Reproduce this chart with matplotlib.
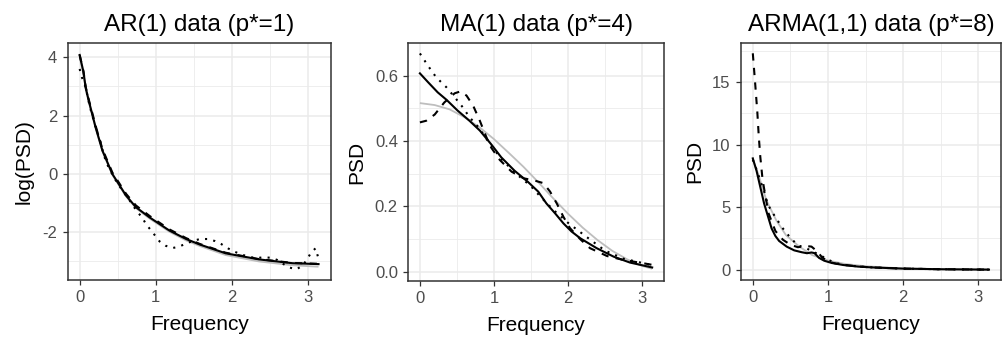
import matplotlib
matplotlib.use("Agg")
import matplotlib.pyplot as plt
from matplotlib.ticker import MultipleLocator, FormatStrFormatter

plt.rcParams["font.family"] = ["Liberation Sans", "DejaVu Sans"]
plt.rcParams["axes.unicode_minus"] = False

# ---- AR(1) panel: log(PSD) ----
ar_true_f = [0.0, 0.05, 0.08, 0.12, 0.21, 0.30, 0.43, 0.61, 0.74, 0.92, 1.18, 1.40, 1.58, 1.92, 2.36, 2.80, 3.14]
ar_true_v = [4.0, 3.42, 2.9, 2.47, 1.56, 0.77, -0.03, -0.77, -1.17, -1.53, -1.98, -2.28, -2.47, -2.78, -3.0, -3.13, -3.18]

ar_est_f = [0.0, 0.05, 0.08, 0.12, 0.21, 0.30, 0.43, 0.61, 0.74, 0.92, 1.18, 1.40, 1.58, 1.92, 2.36, 2.80, 3.14]
ar_est_v = [4.08, 3.5, 2.95, 2.51, 1.6, 0.80, 0.0, -0.74, -1.14, -1.49, -1.94, -2.23, -2.42, -2.72, -2.93, -3.06, -3.09]

ar_dash_f = ar_est_f
ar_dash_v = [4.08, 3.52, 2.98, 2.55, 1.65, 0.85, 0.05, -0.68, -1.08, -1.44, -1.9, -2.2, -2.4, -2.7, -2.92, -3.05, -3.08]

ar_dot_f = [0.0, 0.03, 0.08, 0.13, 0.16, 0.21, 0.24, 0.27, 0.32, 0.36, 0.45, 0.55, 0.65, 0.76, 0.82, 0.87,
            0.94, 1.0, 1.05, 1.13, 1.22, 1.31, 1.40, 1.50, 1.58, 1.68, 1.78, 1.86, 1.95, 2.03, 2.15, 2.31,
            2.40, 2.51, 2.60, 2.68, 2.76, 2.85, 2.93, 2.99, 3.04, 3.10, 3.14]
ar_dot_v = [3.6, 3.31, 2.97, 2.34, 2.06, 1.6, 1.37, 1.14, 0.63, 0.34, -0.12, -0.52, -0.88, -1.31, -1.48, -1.71,
            -1.94, -2.14, -2.31, -2.46, -2.54, -2.49, -2.38, -2.29, -2.23, -2.23, -2.30, -2.40, -2.55, -2.66, -2.78, -2.89,
            -2.86, -2.87, -2.95, -3.09, -3.21, -3.27, -3.14, -2.93, -2.70, -2.55, -2.9]

# ---- MA(1) panel: PSD ----
ma_true_f = [0.0, 0.2, 0.4, 0.6, 0.8, 1.0, 1.2, 1.4, 1.6, 1.8, 2.0, 2.2, 2.4, 2.6, 2.8, 3.0, 3.14]
ma_true_v = [0.516, 0.51, 0.497, 0.473, 0.443, 0.406, 0.364, 0.321, 0.274, 0.225, 0.178, 0.135, 0.097, 0.064, 0.038, 0.018, 0.009]

ma_est_f = [0.0, 0.11, 0.24, 0.36, 0.51, 0.67, 0.81, 0.96, 1.10, 1.28, 1.46, 1.60, 1.71, 1.83, 1.94, 2.05, 2.17, 2.39, 2.62, 2.84, 3.14]
ma_est_v = [0.607, 0.58, 0.549, 0.526, 0.493, 0.462, 0.432, 0.391, 0.350, 0.309, 0.275, 0.245, 0.209, 0.178, 0.148, 0.123, 0.102, 0.072, 0.046, 0.028, 0.013]

ma_dash_f = [0.0, 0.085, 0.20, 0.33, 0.47, 0.55, 0.63, 0.72, 0.81, 0.90, 0.96, 1.08, 1.24, 1.40, 1.55, 1.67, 1.76, 1.85, 1.94, 2.03, 2.17, 2.30, 2.53, 2.75, 3.02, 3.14]
ma_dash_v = [0.457, 0.462, 0.481, 0.518, 0.546, 0.552, 0.539, 0.508, 0.462, 0.411, 0.381, 0.342, 0.306, 0.286, 0.279, 0.271, 0.245, 0.209, 0.168, 0.133, 0.099, 0.072, 0.048, 0.036, 0.026, 0.021]

ma_dot_f = [0.0, 0.11, 0.22, 0.36, 0.47, 0.58, 0.67, 0.80, 0.95, 1.10, 1.30, 1.50, 1.62, 1.80, 2.0, 2.25, 2.50, 2.75, 3.14]
ma_dot_v = [0.668, 0.63, 0.595, 0.564, 0.534, 0.503, 0.473, 0.44, 0.39, 0.345, 0.30, 0.262, 0.232, 0.19, 0.15, 0.107, 0.065, 0.04, 0.02]

# ---- ARMA(1,1) panel: PSD ----
arma_true_f = [0.0, 0.07, 0.18, 0.31, 0.44, 0.62, 0.79, 1.01, 1.24, 1.5, 2.0, 2.5, 3.14]
arma_true_v = [8.8, 7.7, 5.56, 3.97, 2.77, 1.84, 1.17, 0.72, 0.45, 0.28, 0.1, 0.04, 0.01]

arma_est_f = [0.0, 0.05, 0.10, 0.15, 0.20, 0.25, 0.30, 0.35, 0.45, 0.55, 0.65, 0.72, 0.78, 0.82, 0.88, 0.95, 1.05, 1.2, 1.4, 1.6, 2.0, 2.5, 3.14]
arma_est_v = [8.9, 7.9, 6.6, 5.3, 4.3, 3.3, 2.7, 2.3, 1.85, 1.55, 1.4, 1.32, 1.38, 1.33, 0.95, 0.72, 0.54, 0.38, 0.25, 0.18, 0.09, 0.04, 0.01]

arma_dash_f = [0.0, 0.03, 0.06, 0.08, 0.10, 0.13, 0.17, 0.21, 0.30, 0.40, 0.50, 0.60, 0.70, 0.78, 0.85, 0.92, 1.0, 1.1, 1.2, 1.4, 1.6, 2.0, 2.5, 3.14]
arma_dash_v = [17.3, 15.0, 12.6, 10.6, 9.0, 7.2, 5.8, 4.5, 3.1, 2.4, 2.0, 1.8, 1.9, 1.85, 1.5, 1.0, 0.65, 0.5, 0.4, 0.26, 0.18, 0.09, 0.04, 0.01]

arma_dot_f = [0.0, 0.05, 0.10, 0.15, 0.20, 0.30, 0.40, 0.50, 0.60, 0.70, 0.80, 0.90, 1.0, 1.1, 1.2, 1.4, 1.6, 2.0, 2.5, 3.14]
arma_dot_v = [8.8, 8.0, 7.1, 6.3, 5.2, 4.2, 3.3, 2.55, 1.95, 1.75, 1.45, 1.15, 0.8, 0.55, 0.4, 0.26, 0.18, 0.09, 0.04, 0.01]

panels = [
    ("AR(1) data (p*=1)", "log(PSD)", (ar_true_f, ar_true_v), (ar_est_f, ar_est_v),
     (ar_dash_f, ar_dash_v), (ar_dot_f, ar_dot_v), (-3.635, 4.48), 2, 1),
    ("MA(1) data (p*=4)", "PSD", (ma_true_f, ma_true_v), (ma_est_f, ma_est_v),
     (ma_dash_f, ma_dash_v), (ma_dot_f, ma_dot_v), (-0.0275, 0.699), 0.2, 0.1),
    ("ARMA(1,1) data (p*=8)", "PSD", (arma_true_f, arma_true_v), (arma_est_f, arma_est_v),
     (arma_dash_f, arma_dash_v), (arma_dot_f, arma_dot_v), (-0.82, 18.1), 5, 2.5),
]

# axes boxes in pixels: left, right, top, bottom
boxes = [(67.7, 330.7, 43.3, 280.0), (408.3, 664.0, 43.3, 280.7), (741.0, 1001.0, 43.3, 280.0)]

W, H = 1002, 337
fig = plt.figure(figsize=(W / 100, H / 100), dpi=100)

grid_col = "#EBEBEB"
dark = "#333333"

for (title, ylab, true, est, dash, dot, ylim, ymaj, ymin), (l, r, t, b) in zip(panels, boxes):
    ax = fig.add_axes([l / W, 1 - b / H, (r - l) / W, (b - t) / H])
    ax.plot(*true, color="#BEBEBE", lw=1.3, solid_capstyle="butt", zorder=2)
    ax.plot(*dash, color="black", lw=1.5, ls=(0, (3.5, 3.5)), zorder=3)
    ax.plot(*dot, color="black", lw=1.5, ls=(0, (1, 3)), zorder=3)
    ax.plot(*est, color="black", lw=1.5, zorder=4)

    ax.set_xlim(-0.157, 3.30)
    ax.set_ylim(*ylim)
    ax.xaxis.set_major_locator(MultipleLocator(1))
    ax.xaxis.set_minor_locator(MultipleLocator(0.5))
    ax.yaxis.set_major_locator(MultipleLocator(ymaj))
    ax.yaxis.set_minor_locator(MultipleLocator(ymin))
    if ymaj < 1:
        ax.yaxis.set_major_formatter(FormatStrFormatter("%.1f"))

    ax.grid(True, which="major", color=grid_col, lw=1.1, zorder=0)
    ax.grid(True, which="minor", color=grid_col, lw=0.6, zorder=0)
    ax.set_axisbelow(True)
    ax.tick_params(which="minor", length=0)
    ax.tick_params(which="major", length=3.5, width=0.9, color=dark,
                   labelsize=12, labelcolor="#4D4D4D", pad=4)
    for s in ax.spines.values():
        s.set_color(dark)
        s.set_linewidth(1.1)

    ax.set_title(title, fontsize=17.5, pad=9)
    ax.set_xlabel("Frequency", fontsize=15, labelpad=7)
    ax.set_ylabel(ylab, fontsize=15, labelpad=6)

fig.savefig("out.png", dpi=100)
